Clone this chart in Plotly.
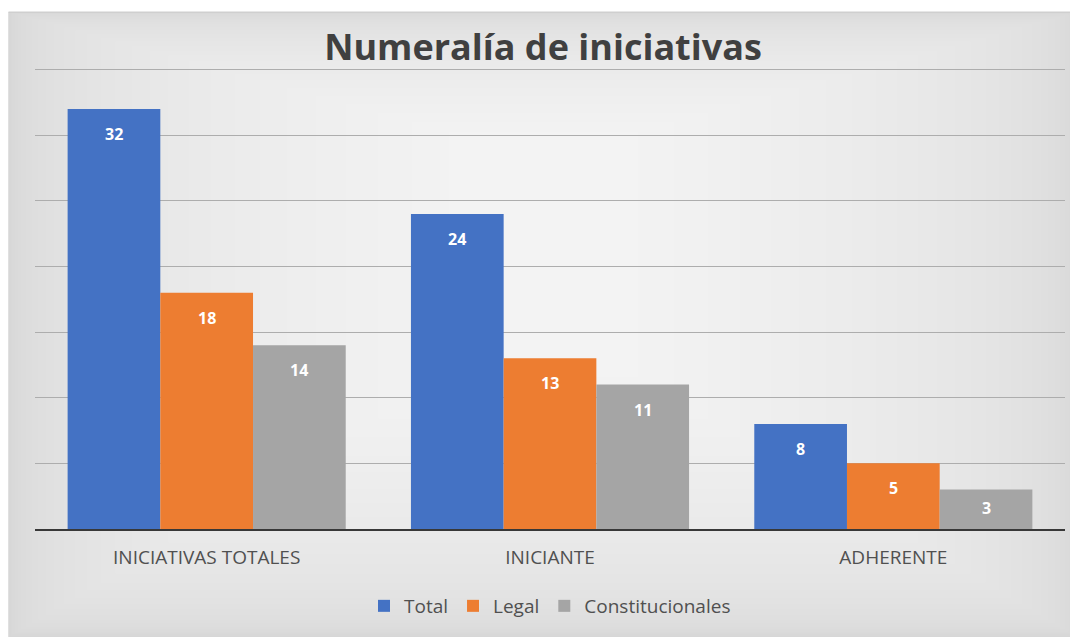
import plotly.graph_objects as go

categories = ["INICIATIVAS TOTALES", "INICIANTE", "ADHERENTE"]
total = [32, 24, 8]
legal = [18, 13, 5]
constitucionales = [14, 11, 3]

series_names = ["Total", "Legal", "Constitucionales"]
series_values = [total, legal, constitucionales]
series_colors = ["#4472C4", "#ED7D31", "#A5A5A5"]

Y_MAX = 35.5
W, H = 1070, 629
L, R, B = 26.5, 13, 108
T = (H - B) - (H - B - 61.5) * Y_MAX / 35
BARGAP = 0.19
PW, PH = W - L - R, H - T - B


def px_x(fx):
    return (fx - L) / PW


def px_y(fy):
    return (H - B - fy) / PH


fig = go.Figure()
for name, vals, color in zip(series_names, series_values, series_colors):
    fig.add_trace(go.Bar(
        name=name, x=categories, y=vals,
        marker=dict(color=color, line=dict(width=0)),
        hoverinfo="x+y+name",
    ))

# data labels, inside end of each bar
bar_px = PW / len(categories) * (1 - BARGAP) / len(series_names)
annotations = []
for i, vals in enumerate(series_values):
    for cat, v in zip(categories, vals):
        annotations.append(dict(
            x=cat, y=v, xref="x", yref="y", text=f"<b>{v}</b>", showarrow=False,
            xshift=(i - 1) * bar_px, yshift=-25 if v > 4 else -18,
            font=dict(color="white", size=16, family="Open Sans"),
        ))

# background: grey edges fading to a light centre (opaque nested rectangles)
shapes = []
edge, centre = 212, 243
n = centre - edge
for k in range(n + 1):
    f = (k / n) ** 2.6
    ix, iy_top, iy_bot = 440 * f, 120 * f, 260 * f
    g = edge + k
    shapes.append(dict(type="rect", xref="paper", yref="paper", layer="below",
                       x0=px_x(ix), x1=px_x(W - ix), y0=px_y(H - iy_bot), y1=px_y(4 + iy_top),
                       fillcolor=f"rgb({g},{g},{g})", line=dict(width=0)))
shapes.append(dict(type="line", xref="paper", yref="paper", layer="below",
                   x0=px_x(0), x1=px_x(W), y0=px_y(4), y1=px_y(4),
                   line=dict(color="#c8c8c8", width=1)))

fig.update_layout(
    width=W, height=H,
    barmode="group", bargap=BARGAP, bargroupgap=0,
    paper_bgcolor="white", plot_bgcolor="rgba(0,0,0,0)",
    margin=dict(l=L, r=R, t=T, b=B, autoexpand=False),
    title=dict(text="<b>Numeralía de iniciativas</b>", x=0.5, xanchor="center",
               y=1 - 39 / H, yanchor="middle",
               font=dict(size=36, color="#404040", family="Open Sans")),
    font=dict(family="Open Sans", color="#595959"),
    xaxis=dict(tickfont=dict(size=19, color="#505050"), showline=True,
               linecolor="#383838", linewidth=2, ticks="", showgrid=False,
               ticklabelstandoff=10),
    yaxis=dict(range=[0, Y_MAX], dtick=5, showticklabels=False, showgrid=True,
               gridcolor="#adadad", gridwidth=1, zeroline=False, showline=False),
    legend=dict(orientation="h", x=0.5, xanchor="center", y=-77 / PH, yanchor="middle",
                font=dict(size=19, color="#505050"), bgcolor="rgba(0,0,0,0)",
                traceorder="normal", itemwidth=30),
    annotations=annotations,
    shapes=shapes,
)

fig.write_html("out.html")
